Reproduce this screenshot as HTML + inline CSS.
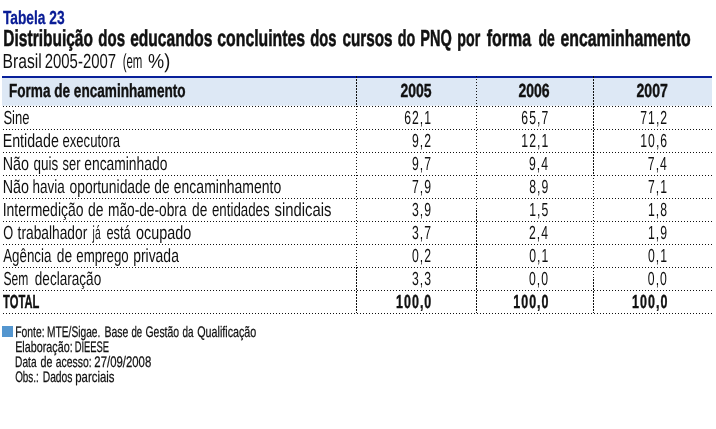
<!DOCTYPE html>
<html><head><meta charset="utf-8"><title>Tabela 23</title>
<style>
html,body{margin:0;padding:0;background:#fff;}
body{width:716px;height:429px;overflow:hidden;}
svg{display:block;font-family:"Liberation Sans",sans-serif;will-change:transform;}
text{white-space:pre;text-rendering:geometricPrecision;}
</style></head><body>
<svg width="716" height="429" viewBox="0 0 716 429">
<rect x="0" y="0" width="716" height="429" fill="#fff"/>
<rect x="2" y="78" width="710" height="27.7" fill="#dde8f5"/>
<rect x="2" y="76" width="710" height="2" fill="#08209a"/>
<g stroke="#111" stroke-width="1" stroke-dasharray="1 2" shape-rendering="crispEdges" fill="none">
<line x1="3" x2="712" y1="106.5" y2="106.5"/><line x1="3" x2="712" y1="129.5" y2="129.5"/><line x1="3" x2="712" y1="152.5" y2="152.5"/><line x1="3" x2="712" y1="175.5" y2="175.5"/><line x1="3" x2="712" y1="198.5" y2="198.5"/><line x1="3" x2="712" y1="221.5" y2="221.5"/><line x1="3" x2="712" y1="244.5" y2="244.5"/><line x1="3" x2="712" y1="267.5" y2="267.5"/><line x1="3" x2="712" y1="290.5" y2="290.5"/><line x1="3" x2="712" y1="313.5" y2="313.5"/>
<line x1="356.5" x2="356.5" y1="106" y2="267"/><line x1="476.5" x2="476.5" y1="76" y2="210"/><line x1="593.5" x2="593.5" y1="175" y2="279"/>
<g stroke-dasharray="2 1"><line x1="356.5" x2="356.5" y1="76" y2="106"/><line x1="356.5" x2="356.5" y1="267" y2="313"/><line x1="476.5" x2="476.5" y1="210" y2="313"/><line x1="593.5" x2="593.5" y1="76" y2="175"/><line x1="593.5" x2="593.5" y1="279" y2="313"/></g>
</g>
<rect x="2" y="326" width="11" height="11" fill="#5496cf"/>
<g fill="#111">
<text transform="translate(2.90 24.00) scale(0.7286 1)" font-size="18.9" font-weight="bold" fill="#0a1d96" stroke="#0a1d96" stroke-width="0.3" vector-effect="non-scaling-stroke">Tabela 23</text>
<text transform="translate(3.33 46.00) scale(0.6672 1)" font-size="23.26" font-weight="bold" stroke="#111" stroke-width="0.55" vector-effect="non-scaling-stroke">Distribuição</text>
<text transform="translate(98.33 46.00) scale(0.6451 1)" font-size="23.26" font-weight="bold" stroke="#111" stroke-width="0.55" vector-effect="non-scaling-stroke">dos</text>
<text transform="translate(130.21 46.00) scale(0.6688 1)" font-size="23.26" font-weight="bold" stroke="#111" stroke-width="0.55" vector-effect="non-scaling-stroke">educandos</text>
<text transform="translate(217.31 46.00) scale(0.6796 1)" font-size="23.26" font-weight="bold" stroke="#111" stroke-width="0.55" vector-effect="non-scaling-stroke">concluintes</text>
<text transform="translate(310.34 46.00) scale(0.6325 1)" font-size="23.26" font-weight="bold" stroke="#111" stroke-width="0.55" vector-effect="non-scaling-stroke">dos</text>
<text transform="translate(342.52 46.00) scale(0.6568 1)" font-size="23.26" font-weight="bold" stroke="#111" stroke-width="0.55" vector-effect="non-scaling-stroke">cursos</text>
<text transform="translate(397.85 46.00) scale(0.6164 1)" font-size="23.26" font-weight="bold" stroke="#111" stroke-width="0.55" vector-effect="non-scaling-stroke">do</text>
<text transform="translate(420.29 46.00) scale(0.6252 1)" font-size="23.26" font-weight="bold" stroke="#111" stroke-width="0.55" vector-effect="non-scaling-stroke">PNQ</text>
<text transform="translate(457.31 46.00) scale(0.6109 1)" font-size="23.26" font-weight="bold" stroke="#111" stroke-width="0.55" vector-effect="non-scaling-stroke">por</text>
<text transform="translate(486.75 46.00) scale(0.6878 1)" font-size="23.26" font-weight="bold" stroke="#111" stroke-width="0.55" vector-effect="non-scaling-stroke">forma</text>
<text transform="translate(538.46 46.00) scale(0.5999 1)" font-size="23.26" font-weight="bold" stroke="#111" stroke-width="0.55" vector-effect="non-scaling-stroke">de</text>
<text transform="translate(560.50 46.00) scale(0.6812 1)" font-size="23.26" font-weight="bold" stroke="#111" stroke-width="0.55" vector-effect="non-scaling-stroke">encaminhamento</text>
<text transform="translate(2.58 68.00) scale(0.7695 1)" font-size="20.35">Brasil</text>
<text transform="translate(44.70 68.00) scale(0.7337 1)" font-size="20.35">2005-2007</text>
<text transform="translate(122.66 68.00) scale(0.5630 1)" font-size="20.35">(em</text>
<text transform="translate(148.03 68.00) scale(0.8929 1)" font-size="20.35">%)</text>
<text transform="translate(8.95 97.00) scale(0.7190 1)" font-size="18.9" font-weight="bold" stroke="#111" stroke-width="0.4" vector-effect="non-scaling-stroke">Forma de encaminhamento</text>
<text transform="translate(400.46 97.00) scale(0.7393 1)" font-size="18.9" font-weight="bold" stroke="#111" stroke-width="0.4" vector-effect="non-scaling-stroke">2005</text>
<text transform="translate(518.46 97.00) scale(0.7418 1)" font-size="18.9" font-weight="bold" stroke="#111" stroke-width="0.4" vector-effect="non-scaling-stroke">2006</text>
<text transform="translate(636.46 97.00) scale(0.7471 1)" font-size="18.9" font-weight="bold" stroke="#111" stroke-width="0.4" vector-effect="non-scaling-stroke">2007</text>
<text transform="translate(3.39 124.00) scale(0.6910 1)" font-size="18.9">Sine</text>
<text transform="translate(2.69 147.00) scale(0.7531 1)" font-size="18.9">Entidade</text>
<text transform="translate(62.39 147.00) scale(0.6955 1)" font-size="18.9">executora</text>
<text transform="translate(2.68 170.00) scale(0.7586 1)" font-size="18.9">Não</text>
<text transform="translate(33.48 170.00) scale(0.7136 1)" font-size="18.9">quis</text>
<text transform="translate(62.60 170.00) scale(0.6804 1)" font-size="18.9">ser</text>
<text transform="translate(84.27 170.00) scale(0.7322 1)" font-size="18.9">encaminhado</text>
<text transform="translate(2.68 193.00) scale(0.7586 1)" font-size="18.9">Não</text>
<text transform="translate(32.56 193.00) scale(0.7139 1)" font-size="18.9">havia</text>
<text transform="translate(69.47 193.00) scale(0.7349 1)" font-size="18.9">oportunidade</text>
<text transform="translate(154.27 193.00) scale(0.7271 1)" font-size="18.9">de</text>
<text transform="translate(173.76 193.00) scale(0.7415 1)" font-size="18.9">encaminhamento</text>
<text transform="translate(2.71 216.00) scale(0.7401 1)" font-size="18.9">Intermedição</text>
<text transform="translate(88.06 216.00) scale(0.7373 1)" font-size="18.9">de</text>
<text transform="translate(107.94 216.00) scale(0.7271 1)" font-size="18.9">mão-de-obra</text>
<text transform="translate(192.07 216.00) scale(0.7271 1)" font-size="18.9">de</text>
<text transform="translate(211.98 216.00) scale(0.7031 1)" font-size="18.9">entidades</text>
<text transform="translate(274.47 216.00) scale(0.7864 1)" font-size="18.9">sindicais</text>
<text transform="translate(3.20 239.00) scale(0.6772 1)" font-size="18.9">O</text>
<text transform="translate(17.60 239.00) scale(0.7286 1)" font-size="18.9">trabalhador</text>
<text transform="translate(92.62 239.00) scale(0.5382 1)" font-size="18.9">já</text>
<text transform="translate(106.40 239.00) scale(0.6780 1)" font-size="18.9">está</text>
<text transform="translate(136.05 239.00) scale(0.7617 1)" font-size="18.9">ocupado</text>
<text transform="translate(3.20 262.00) scale(0.7059 1)" font-size="18.9">Agência</text>
<text transform="translate(56.87 262.00) scale(0.7271 1)" font-size="18.9">de</text>
<text transform="translate(76.28 262.00) scale(0.7032 1)" font-size="18.9">emprego</text>
<text transform="translate(133.13 262.00) scale(0.7386 1)" font-size="18.9">privada</text>
<text transform="translate(3.42 285.00) scale(0.6409 1)" font-size="18.9">Sem</text>
<text transform="translate(34.78 285.00) scale(0.7190 1)" font-size="18.9">declaração</text>
<text transform="translate(3.10 308.00) scale(0.5910 1)" font-size="18.9" font-weight="bold" stroke="#111" stroke-width="0.45" vector-effect="non-scaling-stroke">TOTAL</text>
<text transform="translate(404.13 124.00) scale(0.6462 1)" font-size="18.9" letter-spacing="1.60">62,1</text>
<text transform="translate(521.33 124.00) scale(0.6462 1)" font-size="18.9" letter-spacing="1.60">65,7</text>
<text transform="translate(640.23 124.00) scale(0.6462 1)" font-size="18.9" letter-spacing="1.60">71,2</text>
<text transform="translate(411.95 147.00) scale(0.6462 1)" font-size="18.9" letter-spacing="1.60">9,2</text>
<text transform="translate(521.33 147.00) scale(0.6462 1)" font-size="18.9" letter-spacing="1.60">12,1</text>
<text transform="translate(640.23 147.00) scale(0.6462 1)" font-size="18.9" letter-spacing="1.60">10,6</text>
<text transform="translate(411.95 170.00) scale(0.6462 1)" font-size="18.9" letter-spacing="1.60">9,7</text>
<text transform="translate(528.96 170.00) scale(0.6462 1)" font-size="18.9" letter-spacing="1.60">9,4</text>
<text transform="translate(647.86 170.00) scale(0.6462 1)" font-size="18.9" letter-spacing="1.60">7,4</text>
<text transform="translate(411.95 193.00) scale(0.6462 1)" font-size="18.9" letter-spacing="1.60">7,9</text>
<text transform="translate(529.15 193.00) scale(0.6462 1)" font-size="18.9" letter-spacing="1.60">8,9</text>
<text transform="translate(648.05 193.00) scale(0.6462 1)" font-size="18.9" letter-spacing="1.60">7,1</text>
<text transform="translate(411.95 216.00) scale(0.6462 1)" font-size="18.9" letter-spacing="1.60">3,9</text>
<text transform="translate(529.15 216.00) scale(0.6462 1)" font-size="18.9" letter-spacing="1.60">1,5</text>
<text transform="translate(648.05 216.00) scale(0.6462 1)" font-size="18.9" letter-spacing="1.60">1,8</text>
<text transform="translate(411.95 239.00) scale(0.6462 1)" font-size="18.9" letter-spacing="1.60">3,7</text>
<text transform="translate(528.96 239.00) scale(0.6462 1)" font-size="18.9" letter-spacing="1.60">2,4</text>
<text transform="translate(648.05 239.00) scale(0.6462 1)" font-size="18.9" letter-spacing="1.60">1,9</text>
<text transform="translate(411.95 262.00) scale(0.6462 1)" font-size="18.9" letter-spacing="1.60">0,2</text>
<text transform="translate(529.15 262.00) scale(0.6462 1)" font-size="18.9" letter-spacing="1.60">0,1</text>
<text transform="translate(648.05 262.00) scale(0.6462 1)" font-size="18.9" letter-spacing="1.60">0,1</text>
<text transform="translate(411.95 285.00) scale(0.6462 1)" font-size="18.9" letter-spacing="1.60">3,3</text>
<text transform="translate(528.96 285.00) scale(0.6462 1)" font-size="18.9" letter-spacing="1.60">0,0</text>
<text transform="translate(647.86 285.00) scale(0.6462 1)" font-size="18.9" letter-spacing="1.60">0,0</text>
<text transform="translate(396.02 308.00) scale(0.6598 1)" font-size="18.9" font-weight="bold" letter-spacing="1.55" stroke="#111" stroke-width="0.4" vector-effect="non-scaling-stroke">100,0</text>
<text transform="translate(513.22 308.00) scale(0.6598 1)" font-size="18.9" font-weight="bold" letter-spacing="1.55" stroke="#111" stroke-width="0.4" vector-effect="non-scaling-stroke">100,0</text>
<text transform="translate(632.12 308.00) scale(0.6598 1)" font-size="18.9" font-weight="bold" letter-spacing="1.55" stroke="#111" stroke-width="0.4" vector-effect="non-scaling-stroke">100,0</text>
<text transform="translate(15.19 337.00) scale(0.6783 1)" font-size="15.26" stroke="#111" stroke-width="0.25" vector-effect="non-scaling-stroke">Fonte:</text>
<text transform="translate(47.00 337.00) scale(0.6701 1)" font-size="15.26" stroke="#111" stroke-width="0.25" vector-effect="non-scaling-stroke">MTE/Sigae.</text>
<text transform="translate(104.48 337.00) scale(0.6885 1)" font-size="15.26" stroke="#111" stroke-width="0.25" vector-effect="non-scaling-stroke">Base</text>
<text transform="translate(131.50 337.00) scale(0.6298 1)" font-size="15.26" stroke="#111" stroke-width="0.25" vector-effect="non-scaling-stroke">de</text>
<text transform="translate(145.51 337.00) scale(0.6832 1)" font-size="15.26" stroke="#111" stroke-width="0.25" vector-effect="non-scaling-stroke">Gestão</text>
<text transform="translate(182.39 337.00) scale(0.6508 1)" font-size="15.26" stroke="#111" stroke-width="0.25" vector-effect="non-scaling-stroke">da</text>
<text transform="translate(197.20 337.00) scale(0.7043 1)" font-size="15.26" stroke="#111" stroke-width="0.25" vector-effect="non-scaling-stroke">Qualificação</text>
<text transform="translate(15.16 352.00) scale(0.7062 1)" font-size="15.26" stroke="#111" stroke-width="0.25" vector-effect="non-scaling-stroke">Elaboração:</text>
<text transform="translate(74.67 352.00) scale(0.6151 1)" font-size="15.26" stroke="#111" stroke-width="0.25" vector-effect="non-scaling-stroke">DIEESE</text>
<text transform="translate(15.11 367.00) scale(0.6648 1)" font-size="15.26" stroke="#111" stroke-width="0.25" vector-effect="non-scaling-stroke">Data</text>
<text transform="translate(40.47 367.00) scale(0.6991 1)" font-size="15.26" stroke="#111" stroke-width="0.25" vector-effect="non-scaling-stroke">de</text>
<text transform="translate(55.77 367.00) scale(0.6820 1)" font-size="15.26" stroke="#111" stroke-width="0.25" vector-effect="non-scaling-stroke">acesso:</text>
<text transform="translate(94.37 367.00) scale(0.7449 1)" font-size="15.26" stroke="#111" stroke-width="0.25" vector-effect="non-scaling-stroke">27/09/2008</text>
<text transform="translate(15.14 382.00) scale(0.6488 1)" font-size="15.26" stroke="#111" stroke-width="0.25" vector-effect="non-scaling-stroke">Obs.:</text>
<text transform="translate(42.69 382.00) scale(0.6762 1)" font-size="15.26" stroke="#111" stroke-width="0.25" vector-effect="non-scaling-stroke">Dados</text>
<text transform="translate(75.29 382.00) scale(0.7448 1)" font-size="15.26" stroke="#111" stroke-width="0.25" vector-effect="non-scaling-stroke">parciais</text>
</g>
</svg>
</body></html>
